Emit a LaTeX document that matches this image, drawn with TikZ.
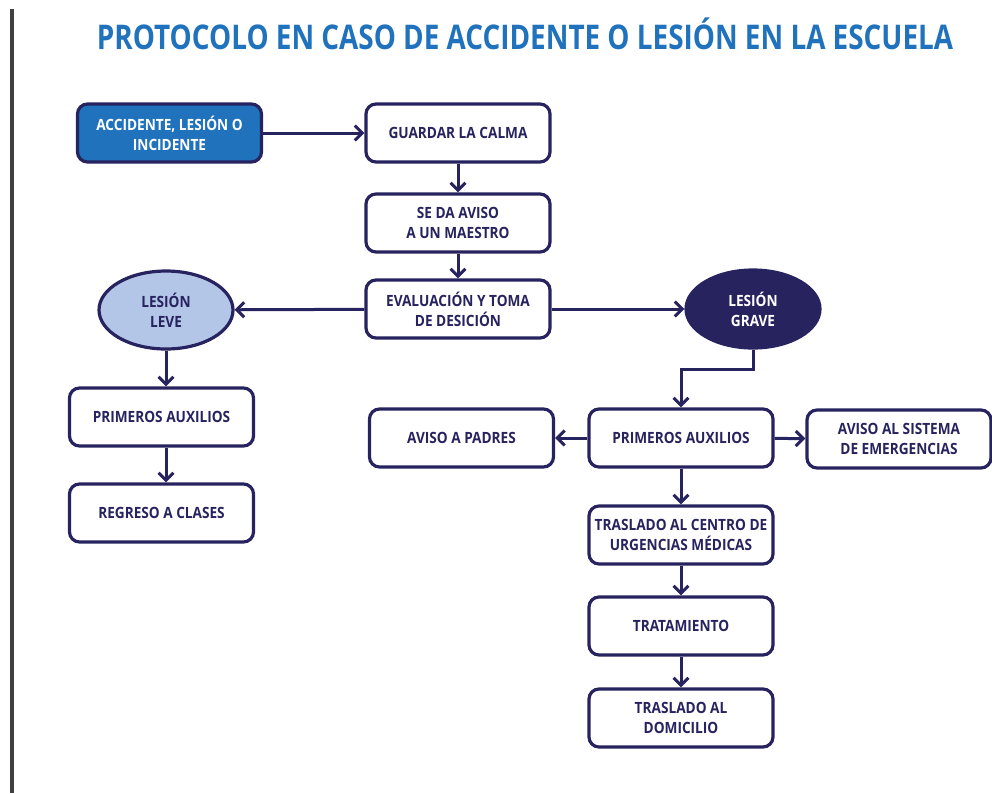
\documentclass[tikz,border=0pt]{standalone}
\usepackage{fontspec}
\setmainfont{Open Sans}[FakeStretch=0.82]
\newfontfamily\nodefont{Open Sans}[FakeStretch=0.88]
\usetikzlibrary{arrows.meta,shapes.geometric}
\definecolor{navy}{HTML}{26235F}
\definecolor{tblue}{HTML}{1F72BB}
\definecolor{lblue}{HTML}{B4C6E7}
\definecolor{barc}{HTML}{3E4042}
\begin{document}
\begin{tikzpicture}[x=1pt,y=-1pt,
  box/.style={draw=navy, line width=3.2pt, rounded corners=10pt, fill=white,
    minimum width=184pt, minimum height=58pt, align=center, text=navy,
    font=\nodefont\bfseries\fontsize{15.5}{20}\selectfont, inner sep=2pt},
  oval/.style={ellipse, draw=navy, line width=3.2pt, minimum width=134pt,
    minimum height=78pt, align=center, font=\nodefont\bfseries\fontsize{15.5}{20}\selectfont, inner sep=1pt},
  conn/.style={draw=navy, line width=3pt, -{Straight Barb[length=7.5pt,width=15pt]}}]
\useasboundingbox (0,0) rectangle (992,793);
\fill[barc] (10,9) rectangle (14,793);
\node[font=\bfseries\fontsize{34}{40}\selectfont, text=tblue] (title) at (525,34)
  {PROTOCOLO EN CASO DE ACCIDENTE O LESIÓN EN LA ESCUELA};
\node[box, fill=tblue, text=white] (acc) at (169.5,133) {ACCIDENTE, LESIÓN O\\INCIDENTE};
\node[box] (guard) at (458,133) {GUARDAR LA CALMA};
\node[box] (aviso) at (458,223) {SE DA AVISO\\A UN MAESTRO};
\node[box] (eval) at (458,309) {EVALUACIÓN Y TOMA\\DE DESICIÓN};
\node[oval, fill=lblue, text=navy] (leve) at (166,310) {LESIÓN\\LEVE};
\node[oval, fill=navy, text=white] (grave) at (753,309) {LESIÓN\\GRAVE};
\node[box] (prima) at (161.5,417) {PRIMEROS AUXILIOS};
\node[box] (regreso) at (161.5,513) {REGRESO A CLASES};
\node[box] (padres) at (461.5,438) {AVISO A PADRES};
\node[box] (primb) at (681,438) {PRIMEROS AUXILIOS};
\node[box] (sistema) at (899,439) {AVISO AL SISTEMA\\DE EMERGENCIAS};
\node[box] (centro) at (681,535) {TRASLADO AL CENTRO DE\\URGENCIAS MÉDICAS};
\node[box] (trat) at (681,626) {TRATAMIENTO};
\node[box] (domi) at (681,718) {TRASLADO AL\\DOMICILIO};
\draw[conn] (acc) -- (guard);
\draw[conn] (guard) -- (aviso);
\draw[conn] (aviso) -- (eval);
\draw[conn] (eval) -- (leve);
\draw[conn] (eval) -- (grave);
\draw[conn] (leve.south) -- (leve.south |- prima.north);
\draw[conn] (prima.south -| leve.south) -- (leve.south |- regreso.north);
\draw[conn] (grave.south) -- ++(0,20) -| (primb.north);
\draw[conn] (primb) -- (padres);
\draw[conn] (primb) -- (sistema);
\draw[conn] (primb) -- (centro);
\draw[conn] (centro) -- (trat);
\draw[conn] (trat) -- (domi);
\end{tikzpicture}
\end{document}
